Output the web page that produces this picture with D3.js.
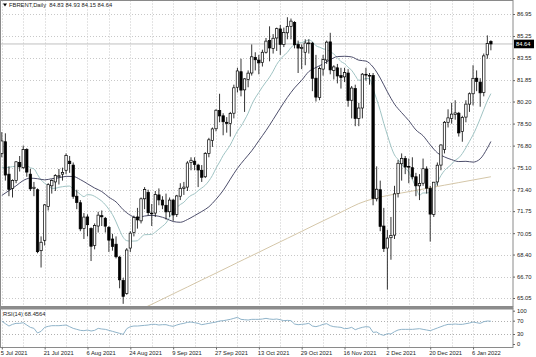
<!DOCTYPE html>
<html><head><meta charset="utf-8">
<script src="https://cdn.jsdelivr.net/npm/d3@7/dist/d3.min.js"></script>
<style>
body{margin:0;background:#fff}
svg{display:block}
text{font-family:"Liberation Sans",Arial,sans-serif}
</style></head>
<body><svg id="c" width="536" height="357"></svg>
<script>
// ---- data (daily bars, index 0 = 5 Jul 2021) ----
const opens=[76.2,77.1,74.6,73.5,74.1,75.5,75.1,76.5,74.6,73.5,73.4,68.7,69.5,72.1,73.7,74.0,74.4,74.6,74.9,75.6,
75.3,72.9,72.4,70.4,71.3,70.4,69.1,70.6,71.4,71.2,70.5,69.6,69.2,68.2,66.4,65.4,68.9,70.1,71.3,71.0,
72.7,73.2,71.6,71.6,73.0,72.6,72.2,71.7,72.6,71.5,72.9,73.5,73.6,75.5,75.6,75.3,74.9,74.4,76.2,77.2,
78.1,79.5,79.1,78.6,78.5,79.3,81.3,82.5,81.1,81.9,82.4,83.6,83.4,83.2,84.0,84.9,84.3,85.1,85.8,84.6,
85.5,86.0,86.3,84.6,84.3,84.0,84.7,84.7,82.0,80.5,82.7,83.4,84.8,82.6,82.8,82.2,82.1,82.4,80.3,81.2,
78.9,79.7,82.3,82.2,82.2,72.7,73.4,70.6,68.9,69.7,69.9,73.1,75.4,75.8,75.2,75.1,74.4,73.7,73.9,75.0,
73.5,71.5,74.0,75.3,76.5,78.6,78.9,79.2,79.3,77.9,79.0,80.0,80.8,82.0,81.7,80.9,83.8,84.83];
const highs=[77.84,77.75,75.2,74.2,75.6,76.0,76.8,76.6,75.0,74.0,73.5,69.8,72.3,73.9,74.2,74.6,75.0,75.1,76.2,76.0,
75.5,73.4,72.6,71.6,71.5,70.5,70.8,71.7,71.8,71.3,70.6,70.0,69.8,68.3,66.6,68.9,70.2,71.4,72.0,72.8,
73.6,73.4,72.3,73.3,73.5,72.9,73.1,72.8,72.7,73.0,73.9,74.0,75.6,75.9,75.9,75.4,75.3,76.3,77.4,78.2,
79.6,80.8,79.3,79.0,79.4,81.5,82.8,83.5,82.0,82.6,84.6,84.0,83.8,84.2,85.1,86.0,85.4,85.9,86.1,85.9,
86.7,86.6,86.4,84.9,84.6,85.0,85.0,84.8,83.8,82.9,83.8,84.9,85.5,83.0,83.1,82.8,82.8,82.7,81.4,81.5,
80.1,82.4,82.8,82.4,82.4,75.2,74.1,72.0,70.3,71.3,73.7,75.7,76.2,76.0,75.8,75.9,74.7,74.6,75.8,75.2,
73.7,74.0,75.5,76.9,78.7,79.6,80.1,80.3,79.4,79.1,80.3,80.9,83.0,82.6,82.0,83.9,85.3,84.93];
const lows=[75.9,74.1,72.9,72.8,73.9,74.8,75.0,74.4,73.3,72.9,68.5,67.4,69.1,71.8,73.1,73.3,73.8,74.1,74.6,74.7,
72.7,71.9,70.2,69.6,69.8,67.9,68.8,70.1,70.6,70.1,68.6,68.7,68.1,65.8,64.6,65.3,68.6,69.8,70.4,70.8,
71.9,71.4,70.6,71.3,72.2,71.9,71.1,71.3,71.0,71.3,72.6,73.0,73.3,74.9,74.9,73.6,74.0,74.3,75.9,76.7,
77.9,78.6,77.6,77.8,77.5,78.9,80.9,80.6,79.4,81.3,82.2,82.6,82.3,82.9,83.9,83.3,83.9,84.1,83.8,84.4,
85.0,85.0,84.3,82.4,82.7,83.0,83.9,81.0,80.2,80.3,82.2,83.1,82.3,81.9,81.6,81.2,81.7,79.8,78.9,78.3,
78.3,78.9,81.8,81.5,72.2,72.5,70.2,68.6,65.7,68.0,69.6,72.8,74.1,74.6,73.9,74.2,72.9,72.6,73.7,73.1,
69.4,71.3,73.7,74.9,76.2,78.2,78.5,78.8,77.5,77.1,78.6,79.4,79.9,81.0,79.8,80.6,83.5,84.15];
const closes=[77.16,74.53,73.43,74.12,75.55,75.16,76.49,74.76,73.47,73.59,68.62,69.35,72.23,73.79,74.10,74.50,74.48,74.74,76.05,75.41,
72.89,72.41,70.38,71.29,70.70,69.04,70.63,71.44,71.31,70.59,69.51,69.03,68.23,66.45,65.18,68.75,70.05,71.25,71.07,72.70,
73.41,71.63,71.59,73.03,72.61,72.22,71.69,72.60,71.45,72.92,73.51,73.60,75.46,75.67,75.34,74.92,74.36,76.19,77.25,78.09,
79.53,79.09,78.64,78.52,79.28,81.26,82.56,81.08,81.95,82.39,83.65,83.42,83.18,84.00,84.86,84.33,85.08,85.82,84.61,85.53,
85.99,86.40,84.58,84.32,84.38,84.71,84.72,81.99,80.54,82.74,83.43,84.78,82.64,82.87,82.17,82.05,82.43,80.28,81.24,78.89,
79.70,82.31,82.25,82.22,72.72,73.44,70.57,68.87,69.67,69.88,73.08,75.44,75.82,75.15,75.15,74.39,73.70,73.88,75.02,73.52,
71.52,73.98,75.29,76.85,78.60,78.94,79.23,79.32,77.78,78.98,80.00,80.80,81.99,81.75,80.87,83.72,84.67,84.64];

// moving averages (fast / mid / slow)
const maFast=[75.10,75.11,75.13,75.18,75.22,75.25,75.34,75.28,75.09,75.01,74.57,74.16,73.90,73.73,73.51,73.51,73.59,73.63,73.67,73.68,
73.43,73.26,73.04,72.87,73.02,73.00,72.89,72.72,72.52,72.24,71.89,71.48,70.92,70.28,69.73,69.47,69.44,69.44,69.47,69.73,
69.93,69.94,69.96,70.13,70.36,70.58,70.83,71.27,71.72,72.02,72.26,72.43,72.74,72.96,73.09,73.33,73.53,73.75,74.08,74.50,
75.06,75.53,76.04,76.44,76.85,77.40,77.91,78.29,78.77,79.30,79.96,80.48,80.90,81.33,81.71,82.08,82.54,83.06,83.44,83.75,
83.99,84.37,84.56,84.70,84.75,84.84,84.95,84.81,84.50,84.39,84.27,84.19,84.05,83.86,83.59,83.28,83.13,82.84,82.61,82.20,
81.84,81.86,81.98,81.95,81.18,80.37,79.51,78.51,77.62,76.75,76.08,75.73,75.35,75.08,74.76,74.19,73.58,72.98,73.15,73.15,
73.22,73.59,73.99,74.49,74.88,75.13,75.37,75.67,75.86,76.19,76.64,77.13,77.63,78.22,78.88,79.58,80.25,80.81];
const maMidBars=[0,2,4,6,8,10,12,14,16,18,20,22,24,26,28,30,32,34,36,38,40,42,44,46,48,50,52,54,56,58,60,62,64,66,68,70,
72,74,76,78,80,82,84,86,88,90,92,94,96,98,100,102,104,106,108,110,112,114,116,118,120,122,124,126,128,130,132,134,136,137];
const maMid=[72.96,73.33,73.70,74.11,74.29,74.25,74.16,74.25,74.32,74.43,74.42,74.18,73.86,73.53,73.26,72.82,72.46,71.86,71.43,71.24,
71.37,71.42,71.35,71.18,70.95,70.89,71.10,71.40,71.72,72.08,72.66,73.34,74.21,75.05,75.74,76.40,77.18,77.96,78.81,79.69,
80.52,81.25,81.84,82.51,82.82,83.10,83.42,83.67,83.69,83.64,83.39,83.32,82.86,82.01,80.95,80.00,79.34,78.73,78.01,77.56,
76.86,76.25,75.93,75.72,75.57,75.59,75.53,75.78,76.60,77.12];
const maSlowBars=[36,40,44,48,52,56,60,64,68,72,76,80,84,88,92,96,100,104,108,112,116,120,124,128,132,137];
const maSlow=[63.76,64.3,64.83,65.37,65.9,66.44,66.97,67.51,68.05,68.58,69.12,69.65,70.19,70.73,71.26,71.8,72.33,72.7,72.95,73.15,
73.35,73.55,73.75,73.95,74.15,74.4];

const rsiValues=[69,61,54,59,62,62,64,57,50,47,33,38,50,53,55,55,55,56,57,52,
47,44,41,40,42,39,41,47,45,44,41,38,35,32,29,46,52,54,54,55,
56,57,59,59,57,58,58,55,53,57,60,62,65,66,64,62,58,60,62,64,
66,69,70,72,74,77,80,74,73,72,74,74,74,75,77,75,74,75,73,70,
71,70,60,58,59,60,62,54,52,55,59,61,55,52,51,50,46,47,50,43,
47,50,52,51,35,36,29,26,31,30,37,42,44,44,44,44,45,46,44,42,
40,44,48,52,56,59,59,60,59,59,61,63,66,64,62,67,69,68.46];

const priceTicks=[86.95,85.25,83.55,81.85,80.20,78.50,76.80,75.10,73.40,71.75,70.05,68.40,66.70,65.05];
const rsiTicks=[100,70,30,0];
const rsiLevels=[70,30];
const dateLabels=["5 Jul 2021","21 Jul 2021","6 Aug 2021","24 Aug 2021","9 Sep 2021","27 Sep 2021","13 Oct 2021",
"29 Oct 2021","16 Nov 2021","2 Dec 2021","20 Dec 2021","6 Jan 2022"];
const dateLabelBars=[0,12,24,36,48,60,72,84,96,108,120,132];
const gridBars=[0,6,12,18,24,30,36,42,48,54,60,66,72,78,84,90,96,102,108,114,120,126,132];
const title="FBRENT,Daily  84.83 84.93 84.15 84.64";
const lastPrice=84.64;

// ---- layout ----
const W=536,H=357;
const plotR=513, mainT=0.5, mainB=306.5, rsiT=309.5, rsiB=347.5;
const svg=d3.select("#c");
svg.append("rect").attr("width",W).attr("height",H).attr("fill","#fff");

const x=d3.scaleLinear().domain([0,137]).range([1.8,490.9]);
const y=d3.scaleLinear().domain([65.05,86.95]).range([298,14]);
const yr=d3.scaleLinear().domain([0,100]).range([344,310.7]);

const defs=svg.append("defs");
defs.append("clipPath").attr("id","cm").append("rect").attr("x",0.5).attr("y",mainT).attr("width",plotR-0.5).attr("height",mainB-mainT);
defs.append("clipPath").attr("id","cr").append("rect").attr("x",0.5).attr("y",rsiT).attr("width",plotR-0.5).attr("height",rsiB-rsiT);

const gridCol="#c8c8c8";
// grid main
const gm=svg.append("g").attr("clip-path","url(#cm)");
gm.selectAll("line.h").data(priceTicks).join("line")
  .attr("x1",0).attr("x2",plotR).attr("y1",d=>Math.round(y(d))+0.5).attr("y2",d=>Math.round(y(d))+0.5)
  .attr("stroke",gridCol).attr("stroke-width",1).attr("stroke-dasharray","1,2");
gm.selectAll("line.v").data(gridBars).join("line")
  .attr("x1",d=>Math.round(x(d))+0.5).attr("x2",d=>Math.round(x(d))+0.5).attr("y1",mainT).attr("y2",mainB)
  .attr("stroke",gridCol).attr("stroke-width",1).attr("stroke-dasharray","1,2");
// bid line
gm.append("line").attr("x1",0).attr("x2",plotR).attr("y1",y(lastPrice)).attr("y2",y(lastPrice))
  .attr("stroke","#c0c0c0").attr("stroke-width",1);

// MA lines
const lineFast=d3.line().x((d,i)=>x(i)).y(d=>y(d)).curve(d3.curveMonotoneX);
gm.append("path").attr("d",lineFast(maFast)).attr("fill","none").attr("stroke","#9fc3c3").attr("stroke-width",1);
const lineMid=d3.line().x((d,i)=>x(maMidBars[i])).y(d=>y(d)).curve(d3.curveMonotoneX);
gm.append("path").attr("d",lineMid(maMid)).attr("fill","none").attr("stroke","#4d4e6b").attr("stroke-width",1);
const lineSlow=d3.line().x((d,i)=>x(maSlowBars[i])).y(d=>y(d)).curve(d3.curveMonotoneX);
gm.append("path").attr("d",lineSlow(maSlow)).attr("fill","none").attr("stroke","#d4c6a8").attr("stroke-width",1);

// candles
const bw=2.4;
const cg=gm.append("g");
cg.selectAll("line.w").data(closes).join("line")
  .attr("x1",(d,i)=>x(i)).attr("x2",(d,i)=>x(i))
  .attr("y1",(d,i)=>y(highs[i])).attr("y2",(d,i)=>y(lows[i]))
  .attr("stroke","#000").attr("stroke-width",0.8);
cg.selectAll("rect").data(closes).join("rect")
  .attr("x",(d,i)=>x(i)-bw/2).attr("width",bw)
  .attr("y",(d,i)=>y(Math.max(opens[i],d)))
  .attr("height",(d,i)=>Math.max(0.8,Math.abs(y(opens[i])-y(d))))
  .attr("fill",(d,i)=>d>=opens[i]?"#fff":"#000")
  .attr("stroke","#000").attr("stroke-width",0.7);

// frames
svg.append("rect").attr("x",0.5).attr("y",mainT).attr("width",plotR-0.5).attr("height",mainB-mainT)
  .attr("fill","none").attr("stroke","#8a8a8a").attr("stroke-width",1);
svg.append("rect").attr("x",0).attr("y",306.5).attr("width",plotR+0.5).attr("height",2.5).attr("fill","#8c8c8c");

// right price axis
const ax=svg.append("g").attr("transform",`translate(${plotR},0)`)
  .call(d3.axisRight(y).tickValues(priceTicks).tickFormat(d3.format(".2f")).tickSize(2).tickPadding(2));
ax.select(".domain").remove();
ax.selectAll("line").attr("stroke","#666");
ax.selectAll("text").attr("font-size","5.8px").attr("fill","#222").attr("font-family","Liberation Sans, Arial, sans-serif");

// last price box
svg.append("rect").attr("x",514).attr("y",y(lastPrice)-4.3).attr("width",20).attr("height",8.6).attr("fill","#000");
svg.append("text").attr("x",516).attr("y",y(lastPrice)).attr("dy","0.35em").attr("font-size","5.8px").attr("fill","#fff").text(d3.format(".2f")(lastPrice));

// title
svg.append("path").attr("d","M3,3.5 L7,3.5 L5,6.5 Z").attr("fill","#000");
svg.append("text").attr("x",9).attr("y",5).attr("dy","0.35em").attr("font-size","5.8px").attr("fill","#222").attr("xml:space","preserve").text(title);

// RSI panel
const gr=svg.append("g").attr("clip-path","url(#cr)");
gr.selectAll("line.v").data(gridBars).join("line")
  .attr("x1",d=>Math.round(x(d))+0.5).attr("x2",d=>Math.round(x(d))+0.5).attr("y1",rsiT).attr("y2",rsiB)
  .attr("stroke",gridCol).attr("stroke-width",1).attr("stroke-dasharray","1,2");
gr.selectAll("line.h").data(rsiLevels).join("line")
  .attr("x1",0).attr("x2",plotR).attr("y1",d=>Math.round(yr(d))+0.5).attr("y2",d=>Math.round(yr(d))+0.5)
  .attr("stroke","#b0b0b0").attr("stroke-width",1).attr("stroke-dasharray","1,2");
const lineRsi=d3.line().x((d,i)=>x(i)).y(d=>yr(d));
gr.append("path").attr("d",lineRsi(rsiValues)).attr("fill","none").attr("stroke","#8fb3c9").attr("stroke-width",1);
svg.append("rect").attr("x",0.5).attr("y",rsiT-0.5).attr("width",plotR-0.5).attr("height",rsiB-rsiT+0.5)
  .attr("fill","none").attr("stroke","#8a8a8a").attr("stroke-width",1);
svg.append("text").attr("x",3).attr("y",314).attr("dy","0.35em").attr("font-size","5.8px").attr("fill","#222").text("RSI(14) 68.4564");
const ar=svg.append("g").attr("transform",`translate(${plotR},0)`)
  .call(d3.axisRight(yr).tickValues(rsiTicks).tickFormat(d3.format("d")).tickSize(2).tickPadding(2));
ar.select(".domain").remove();
ar.selectAll("line").attr("stroke","#666");
ar.selectAll("text").attr("font-size","5.8px").attr("fill","#222").attr("font-family","Liberation Sans, Arial, sans-serif");

// date axis
const axb=svg.append("g").attr("transform",`translate(0,${rsiB})`)
  .call(d3.axisBottom(x).tickValues(dateLabelBars).tickFormat((d,i)=>dateLabels[i]).tickSize(2).tickPadding(1));
axb.select(".domain").remove();
axb.selectAll("line").attr("stroke","#666");
axb.selectAll("text").attr("text-anchor","start").attr("x",-1.5).attr("font-size","5.8px").attr("fill","#222")
  .attr("font-family","Liberation Sans, Arial, sans-serif");
</script></body></html>
